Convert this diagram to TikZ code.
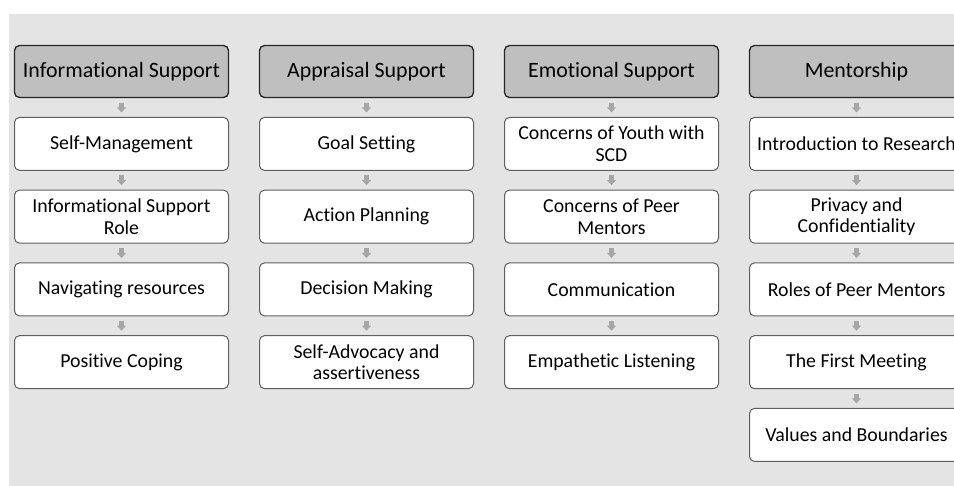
\documentclass[tikz,border=0pt]{standalone}
\usepackage{fontspec}
\setmainfont{Carlito}[Ligatures=NoCommon]
\usetikzlibrary{positioning,arrows.meta}
\definecolor{bgGray}{HTML}{E4E4E4}
\definecolor{headGray}{HTML}{BFBFBF}
\definecolor{lineGray}{HTML}{5F5F5F}
\definecolor{arrowGray}{HTML}{A6A6A6}
\tikzset{
  headBox/.style={draw=black!85, line width=1.3pt, fill=headGray, rounded corners=5pt,
    minimum width=214pt, minimum height=52pt, inner sep=2pt, align=center,
    font=\fontsize{21.9}{24}\selectfont},
  itemBox/.style={draw=lineGray, line width=1pt, fill=white, rounded corners=5pt,
    minimum width=214pt, minimum height=53pt, inner sep=2pt, align=center,
    font=\fontsize{19.8}{21.7}\selectfont},
  stepArrow/.style={draw=arrowGray, line width=4.5pt, -{Triangle[width=9pt,length=5pt]},
    shorten <=4.5pt, shorten >=4.5pt}
}

\begin{document}
\begin{tikzpicture}[node distance=18.75pt]
\useasboundingbox (0,0) rectangle (954pt,-486pt);
\clip (0,0) rectangle (954pt,-486pt);
\fill[bgGray] (9pt,-14pt) rectangle (954pt,-486pt);

\node[headBox] (infoSupport) at (121.5pt,-71.5pt) {Informational Support};
\node[itemBox, below=of infoSupport] (selfMgmt) {Self-Management};
\node[itemBox, below=of selfMgmt] (infoRole) {Informational Support\\Role};
\node[itemBox, below=of infoRole] (navResources) {Navigating resources};
\node[itemBox, below=of navResources] (posCoping) {Positive Coping};

\node[headBox] (apprSupport) at (366.5pt,-71.5pt) {Appraisal Support};
\node[itemBox, below=of apprSupport] (goalSetting) {Goal Setting};
\node[itemBox, below=of goalSetting] (actPlanning) {Action Planning};
\node[itemBox, below=of actPlanning] (decMaking) {Decision Making};
\node[itemBox, below=of decMaking] (selfAdvocacy) {Self-Advocacy and\\assertiveness};

\node[headBox] (emoSupport) at (611.5pt,-71.5pt) {Emotional Support};
\node[itemBox, below=of emoSupport] (youthConcerns) {Concerns of Youth with\\SCD};
\node[itemBox, below=of youthConcerns] (peerConcerns) {Concerns of Peer\\Mentors};
\node[itemBox, below=of peerConcerns] (communication) {Communication};
\node[itemBox, below=of communication] (empListening) {Empathetic Listening};

\node[headBox] (mentorship) at (856.5pt,-71.5pt) {Mentorship};
\node[itemBox, below=of mentorship] (introResearch) {Introduction to Research};
\node[itemBox, below=of introResearch] (privacy) {Privacy and\\Confidentiality};
\node[itemBox, below=of privacy] (peerRoles) {Roles of Peer Mentors};
\node[itemBox, below=of peerRoles] (firstMeeting) {The First Meeting};
\node[itemBox, below=of firstMeeting] (valBoundaries) {Values and Boundaries};

\draw[stepArrow] (infoSupport) -- (selfMgmt);
\draw[stepArrow] (selfMgmt) -- (infoRole);
\draw[stepArrow] (infoRole) -- (navResources);
\draw[stepArrow] (navResources) -- (posCoping);

\draw[stepArrow] (apprSupport) -- (goalSetting);
\draw[stepArrow] (goalSetting) -- (actPlanning);
\draw[stepArrow] (actPlanning) -- (decMaking);
\draw[stepArrow] (decMaking) -- (selfAdvocacy);

\draw[stepArrow] (emoSupport) -- (youthConcerns);
\draw[stepArrow] (youthConcerns) -- (peerConcerns);
\draw[stepArrow] (peerConcerns) -- (communication);
\draw[stepArrow] (communication) -- (empListening);

\draw[stepArrow] (mentorship) -- (introResearch);
\draw[stepArrow] (introResearch) -- (privacy);
\draw[stepArrow] (privacy) -- (peerRoles);
\draw[stepArrow] (peerRoles) -- (firstMeeting);
\draw[stepArrow] (firstMeeting) -- (valBoundaries);
\end{tikzpicture}
\end{document}
